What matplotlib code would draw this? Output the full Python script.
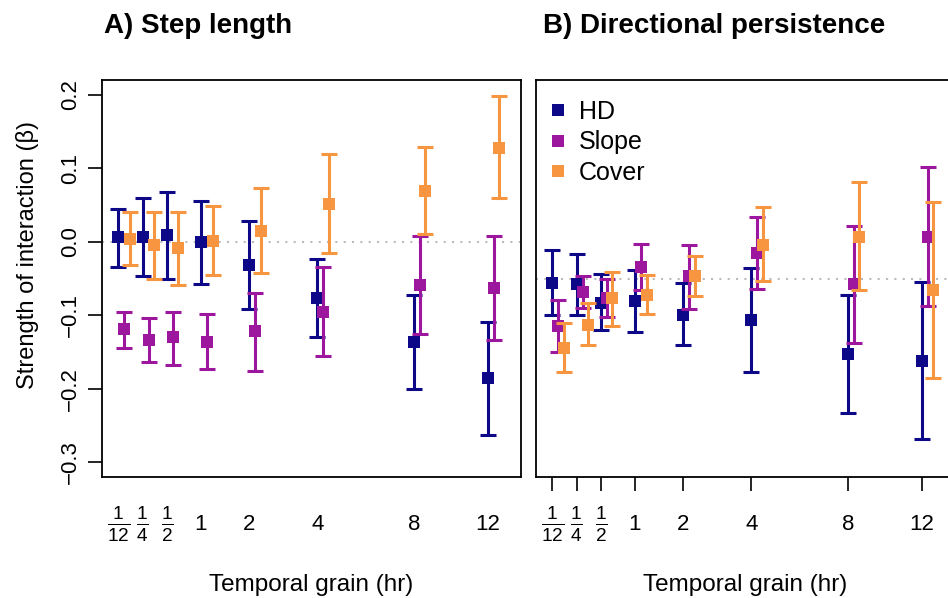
import numpy as np
import matplotlib
matplotlib.use("Agg")
import matplotlib.pyplot as plt
from matplotlib.lines import Line2D

plt.rcParams['font.family'] = ['Liberation Sans', 'DejaVu Sans']
plt.rcParams['mathtext.fontset'] = 'custom'
plt.rcParams['mathtext.rm'] = 'Liberation Sans'
plt.rcParams['mathtext.it'] = 'Liberation Sans:italic'
plt.rcParams['mathtext.bf'] = 'Liberation Sans:bold'

# temporal grain in hours
hours = [1/12, 1/4, 1/2, 1, 2, 4, 8, 12]
tick_labels = [r'$\frac{1}{12}$', r'$\frac{1}{4}$', r'$\frac{1}{2}$', '1', '2', '4', '8', '12']
series = ["HD", "Slope", "Cover"]
colors = ["#0D0887", "#9C179E", "#F89540"]

# A) step length: estimate, lower, upper
hd_step = [0.006, 0.007, 0.009, -0.001, -0.032, -0.077, -0.136, -0.186]
hd_step_lo = [-0.035, -0.046, -0.050, -0.058, -0.092, -0.130, -0.200, -0.263]
hd_step_hi = [0.045, 0.059, 0.067, 0.056, 0.028, -0.024, -0.072, -0.109]
slope_step = [-0.119, -0.133, -0.130, -0.136, -0.122, -0.095, -0.059, -0.063]
slope_step_lo = [-0.145, -0.163, -0.167, -0.173, -0.176, -0.156, -0.125, -0.134]
slope_step_hi = [-0.095, -0.104, -0.095, -0.098, -0.070, -0.035, 0.008, 0.008]
cover_step = [0.004, -0.004, -0.009, 0.001, 0.015, 0.052, 0.069, 0.128]
cover_step_lo = [-0.032, -0.050, -0.059, -0.045, -0.043, -0.015, 0.011, 0.059]
cover_step_hi = [0.040, 0.041, 0.041, 0.048, 0.073, 0.119, 0.129, 0.198]

# B) directional persistence
hd_dir = [-0.006, -0.008, -0.033, -0.030, -0.049, -0.057, -0.103, -0.112]
hd_dir_lo = [-0.049, -0.049, -0.070, -0.073, -0.091, -0.127, -0.183, -0.218]
hd_dir_hi = [0.039, 0.033, 0.006, 0.012, -0.006, 0.014, -0.023, -0.005]
slope_dir = [-0.064, -0.018, -0.026, 0.016, 0.003, 0.035, -0.008, 0.057]
slope_dir_lo = [-0.100, -0.040, -0.052, -0.015, -0.041, -0.014, -0.088, -0.037]
slope_dir_hi = [-0.029, 0.004, -0.001, 0.047, 0.046, 0.084, 0.072, 0.152]
cover_dir = [-0.094, -0.063, -0.027, -0.022, 0.004, 0.046, 0.057, -0.016]
cover_dir_lo = [-0.127, -0.091, -0.065, -0.048, -0.024, -0.004, -0.016, -0.136]
cover_dir_hi = [-0.060, -0.033, 0.009, 0.005, 0.031, 0.097, 0.131, 0.104]

step_data = [(hd_step, hd_step_lo, hd_step_hi),
             (slope_step, slope_step_lo, slope_step_hi),
             (cover_step, cover_step_lo, cover_step_hi)]
dir_data = [(hd_dir, hd_dir_lo, hd_dir_hi),
            (slope_dir, slope_dir_lo, slope_dir_hi),
            (cover_dir, cover_dir_lo, cover_dir_hi)]

xpos = np.sqrt(hours)
offsets = [0.0, 0.05, 0.1]


def draw_panel(ax, data, ylim):
    ax.axhline(0, color="#BBBBBB", linestyle=(0, (1, 3)), lw=1.5, zorder=0)
    for (est, lo, hi), off, c in zip(data, offsets, colors):
        est = np.array(est)
        yerr = [est - np.array(lo), np.array(hi) - est]
        ax.errorbar(xpos + off, est, yerr=yerr, fmt='none', ecolor=c,
                    elinewidth=2.2, capsize=6, capthick=2.2)
        ax.plot(xpos + off, est, 's', color=c, ms=9, mew=0)
    ax.set_xlim(0.15, 3.75)
    ax.set_ylim(*ylim)
    ax.set_xticks(xpos)
    ax.set_xticklabels(tick_labels)
    ax.tick_params(axis='x', length=10, width=1.2, pad=24, labelsize=16)
    for i, lab in enumerate(ax.get_xticklabels()):
        lab.set_va('center')
        if i < 3:
            lab.set_fontsize(19.5)
    for s in ax.spines.values():
        s.set_linewidth(1.3)
    ax.set_xlabel("Temporal grain (hr)", fontsize=17.5)
    ax.xaxis.set_label_coords(0.5, -0.245)


fig = plt.figure(figsize=(9.48, 5.98), dpi=100)
axA = fig.add_axes([102/948, 121/598, 419/948, 397/598])
axB = fig.add_axes([536/948, 121/598, 419/948, 397/598])

draw_panel(axA, step_data, (-0.32, 0.22))
axA.tick_params(axis='x', width=0)
axA.set_yticks([-0.3, -0.2, -0.1, 0.0, 0.1, 0.2])
axA.set_yticklabels(["\u22120.3", "\u22120.2", "\u22120.1", "0.0", "0.1", "0.2"])
axA.tick_params(axis='y', length=10, width=1.2, pad=5, labelsize=16)
for lab in axA.get_yticklabels():
    lab.set_rotation(90)
    lab.set_va('center')
axA.set_ylabel("Strength of interaction (\u03b2)", fontsize=17)
axA.yaxis.set_label_coords(-0.15, 0.56)

draw_panel(axB, dir_data, (-0.27, 0.27))
axB.set_yticks([])

handles = [Line2D([], [], marker='s', color=c, ls='none', ms=9, mew=0) for c in colors]
axB.legend(handles, series, loc='upper left', bbox_to_anchor=(-0.005, 0.99), frameon=False,
           fontsize=18, handlelength=0.6, handletextpad=0.55, labelspacing=0.25,
           borderpad=0.5, borderaxespad=0.15)

fig.text(104/948, 1 - 33/598, "A) Step length", fontsize=20, fontweight='bold', va='baseline')
fig.text(543/948, 1 - 33/598, "B) Directional persistence", fontsize=20, fontweight='bold', va='baseline')

fig.savefig("out.png", dpi=100)
